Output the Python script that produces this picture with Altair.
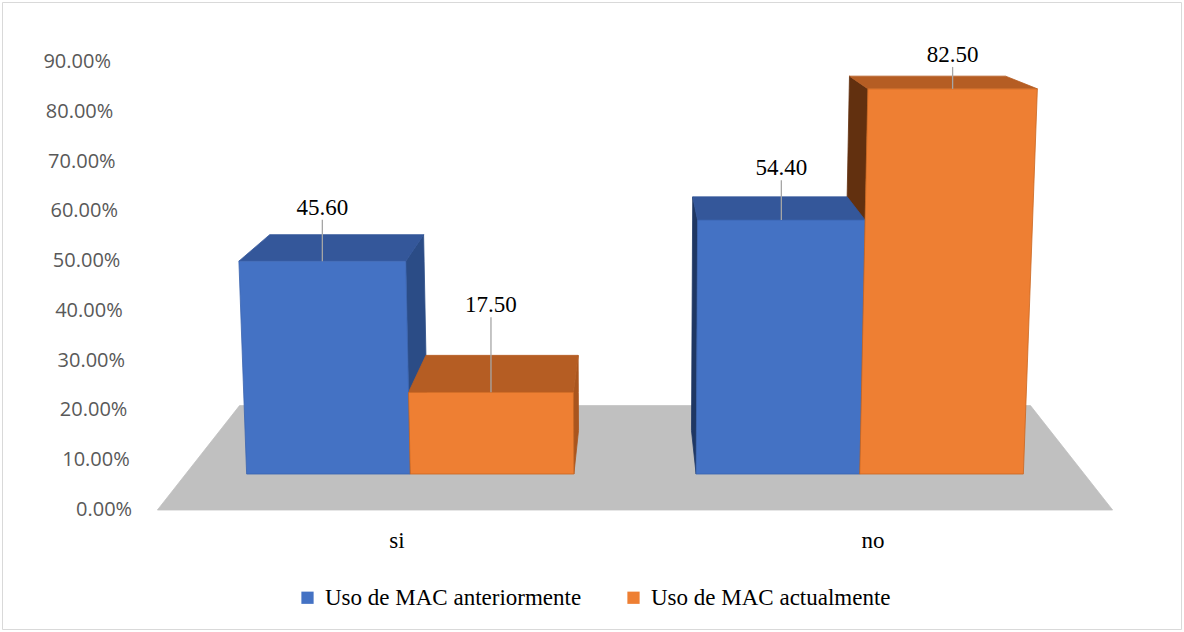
import altair as alt
import pandas as pd

# ---------------- data ----------------
categories = ["si", "no"]
series = ["Uso de MAC anteriormente", "Uso de MAC actualmente"]
uso_anterior = [45.60, 54.40]
uso_actual = [17.50, 82.50]
y_ticks = [0, 10, 20, 30, 40, 50, 60, 70, 80, 90]

# how far each value label sits above its bar (value-axis units)
lift_anterior = [10.7, 10.4]
lift_actual = [17.5, 6.8]

# ---------------- styling ----------------
FRONT = {series[0]: "#4472C4", series[1]: "#EE7F33"}
EDGE = {series[0]: "#3A63AE", series[1]: "#C9661F"}
TOP = {series[0]: "#34579A", series[1]: "#B55D23"}
SIDE_RIGHT = {series[0]: "#2B4C86", series[1]: "#A9551E"}
SIDE_LEFT = {series[0]: "#1F3763", series[1]: "#62300F"}
FLOOR_FILL = "#C0C0C0"
SERIF = "Liberation Serif"

# ---------------- 3-D scene (perspective) ----------------
BAR_W = 0.364                 # bar width in category units
FLOOR_X = (-0.5, 1.5)         # floor spans the category bands
EYE_X, EYE_Y = 0.5, 116.5     # depth vanishing point
T_FLOOR_FRONT, T_FLOOR_BACK = 1.0, 0.82
T_BAR_FRONT = 0.938
T_BAR_BACK = 0.938 * 0.92
KEY_X, KEY_Y = 0.5, -2140.6   # vertical lines converge towards this point
AXIS_GAP = 0.053              # value labels sit just left of the floor

X_DOMAIN = [-0.6202, 1.5783]
Y_DOMAIN = [0, 90]
W, H = 1050, 448


def project(x, y, t):
    x1 = EYE_X + (x - EYE_X) * t
    y1 = EYE_Y + (y - EYE_Y) * t
    k = (y1 - KEY_Y) / (0 - KEY_Y)
    return KEY_X + (x1 - KEY_X) * k, y1


def poly_rows(pts):
    """Horizontal spans of a convex polygon at each vertex height."""
    ys = sorted({round(p[1], 9) for p in pts})
    rows = []
    n = len(pts)
    for yy in ys:
        xs = []
        for i in range(n):
            (xa, ya), (xb, yb) = pts[i], pts[(i + 1) % n]
            if abs(ya - yy) < 1e-7:
                xs.append(xa)
            if (ya - yy) * (yb - yy) < 0:
                xs.append(xa + (xb - xa) * (yy - ya) / (yb - ya))
        rows.append((yy, min(xs), max(xs)))
    return rows


def add_poly(store, pid, pts, fill, stroke, name=""):
    for yy, xl, xr in poly_rows(pts):
        store.append(dict(poly=pid, y=yy, xl=xl, xr=xr,
                          fill=fill, stroke=stroke, series=name))


floor_rows, side_rows, top_rows, front_rows = [], [], [], []
leaders, value_labels = [], []

add_poly(floor_rows, "floor", [
    project(FLOOR_X[0], 0, T_FLOOR_FRONT), project(FLOOR_X[1], 0, T_FLOOR_FRONT),
    project(FLOOR_X[1], 0, T_FLOOR_BACK), project(FLOOR_X[0], 0, T_FLOOR_BACK)],
    FLOOR_FILL, FLOOR_FILL)

for i, cat in enumerate(categories):
    for s, (name, vals, lifts) in enumerate([
            (series[0], uso_anterior, lift_anterior),
            (series[1], uso_actual, lift_actual)]):
        v = vals[i]
        x0 = i - BAR_W if s == 0 else i
        x1 = x0 + BAR_W
        tf, tb = T_BAR_FRONT, T_BAR_BACK
        pid = f"{cat}-{s}"
        add_poly(front_rows, pid, [project(x0, 0, tf), project(x1, 0, tf),
                                   project(x1, v, tf), project(x0, v, tf)],
                 FRONT[name], EDGE[name], name)
        add_poly(top_rows, pid, [project(x0, v, tf), project(x1, v, tf),
                                 project(x1, v, tb), project(x0, v, tb)],
                 TOP[name], TOP[name], name)
        if x1 <= EYE_X:
            xs_, col = x1, SIDE_RIGHT[name]
        else:
            xs_, col = x0, SIDE_LEFT[name]
        add_poly(side_rows, pid, [project(xs_, 0, tf), project(xs_, 0, tb),
                                  project(xs_, v, tb), project(xs_, v, tf)],
                 col, col, name)
        cx, cy = project((x0 + x1) / 2, v, tf)
        ly = cy + lifts[i]
        leaders.append(dict(x=cx, y=cy, y2=ly - 2.4))
        value_labels.append(dict(x=cx, y=ly, text=f"{v:.2f}"))

tick_rows = []
for t in y_ticks:
    tx, ty = project(FLOOR_X[0] - AXIS_GAP, t, 1.0)
    tick_rows.append(dict(x=tx, y=ty, text=f"{t:.2f}%"))

cat_rows = []
for i, cat in enumerate(categories):
    cx, cy = project(i, -6.2, 1.0)
    cat_rows.append(dict(x=cx, y=cy, text=cat))

xs = alt.Scale(domain=X_DOMAIN, nice=False, zero=False)
ys = alt.Scale(domain=Y_DOMAIN, nice=False, zero=False)


def face_layer(rows, legend_fill=False):
    base = alt.Chart(pd.DataFrame(rows)).mark_area(
        orient="horizontal", strokeWidth=0.8, interpolate="linear")
    if legend_fill:
        fill = alt.Fill("series:N",
                        scale=alt.Scale(domain=series,
                                        range=[FRONT[series[0]], FRONT[series[1]]]),
                        legend=alt.Legend(
                            orient="none", legendX=196, legendY=524,
                            direction="horizontal", title=None,
                            symbolType="square", symbolSize=150,
                            symbolStrokeWidth=0, padding=0,
                            labelFont=SERIF, labelFontSize=23,
                            labelColor="black", labelOffset=6,
                            labelLimit=500, columnPadding=40))
    else:
        fill = alt.Fill("fill:N", scale=None)
    return base.encode(
        y=alt.Y("y:Q", scale=ys, axis=None),
        x=alt.X("xl:Q", scale=xs, axis=None, stack=None),
        x2="xr:Q",
        detail="poly:N",
        fill=fill,
        stroke=alt.Stroke("stroke:N", scale=None),
    )


border = alt.Chart(pd.DataFrame({"a": [0]})).mark_rect(
    fill="transparent", stroke="#D9D9D9", strokeWidth=1).encode(
    x=alt.value(-97.5), x2=alt.value(1081.5),
    y=alt.value(-59.5), y2=alt.value(567.5))

leader_layer = alt.Chart(pd.DataFrame(leaders)).mark_rule(
    color="#A6A6A6", strokeWidth=1.3).encode(
    x=alt.X("x:Q", scale=xs, axis=None),
    y=alt.Y("y:Q", scale=ys, axis=None), y2="y2:Q")

label_layer = alt.Chart(pd.DataFrame(value_labels)).mark_text(
    font=SERIF, fontSize=23, color="black", baseline="middle", align="center").encode(
    x=alt.X("x:Q", scale=xs, axis=None),
    y=alt.Y("y:Q", scale=ys, axis=None), text="text:N")

tick_layer = alt.Chart(pd.DataFrame(tick_rows)).mark_text(
    font="Open Sans", fontSize=20, color="#595959", baseline="middle", align="right").encode(
    x=alt.X("x:Q", scale=xs, axis=None),
    y=alt.Y("y:Q", scale=ys, axis=None), text="text:N")

cat_layer = alt.Chart(pd.DataFrame(cat_rows)).mark_text(
    font=SERIF, fontSize=23, color="black", baseline="middle", align="center").encode(
    x=alt.X("x:Q", scale=xs, axis=None),
    y=alt.Y("y:Q", scale=ys, axis=None), text="text:N")

chart = alt.layer(
    border,
    face_layer(floor_rows),
    face_layer(side_rows),
    face_layer(top_rows),
    face_layer(front_rows, legend_fill=True),
    leader_layer,
    label_layer,
    tick_layer,
    cat_layer,
).properties(
    width=W, height=H,
    padding={"left": 100, "top": 62, "right": 34, "bottom": 122},
    autosize=alt.AutoSizeParams(type="none"),
    background="white",
).configure_view(stroke=None)

chart.save("out.html", embed_options={"renderer": "svg", "actions": False})
